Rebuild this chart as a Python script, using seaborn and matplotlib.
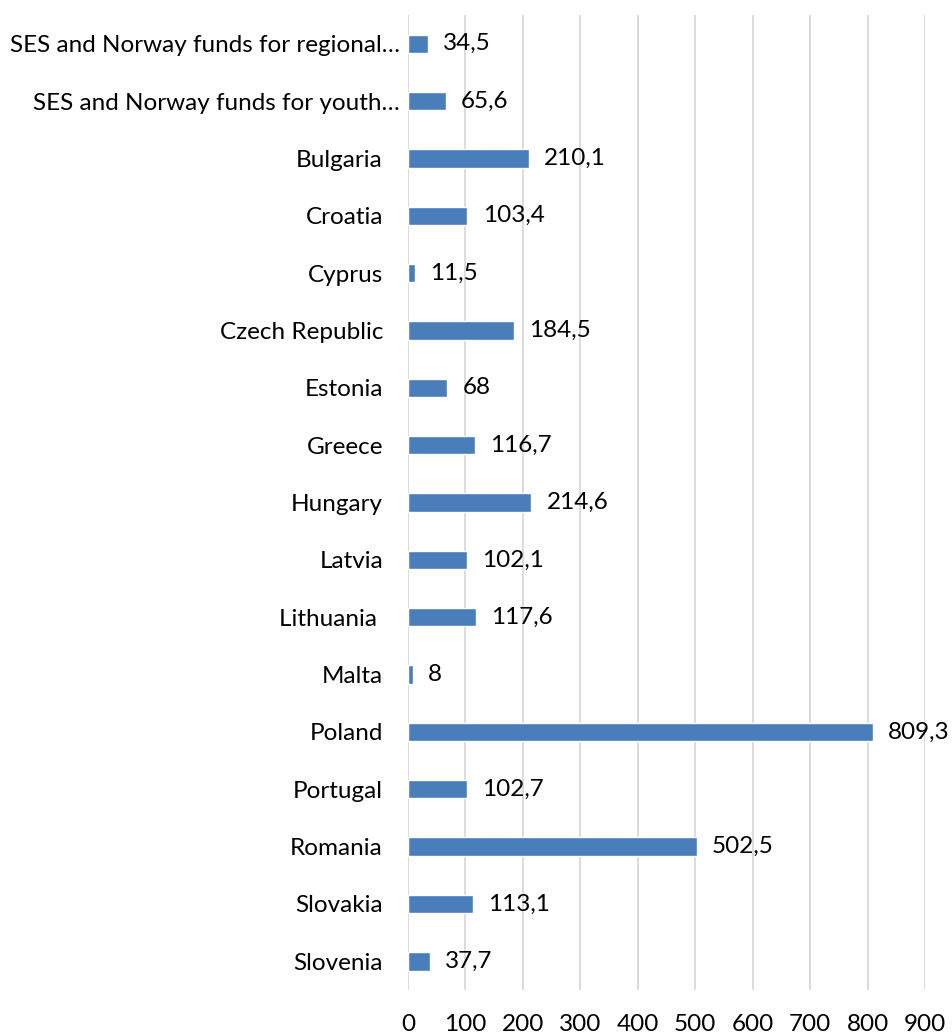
import matplotlib
matplotlib.use("Agg")
import matplotlib.pyplot as plt
import matplotlib.transforms as mtransforms
import seaborn as sns
import pandas as pd

categories = [
    "SES and Norway funds for regional…",
    "SES and Norway funds for youth…",
    "Bulgaria", "Croatia", "Cyprus", "Czech Republic", "Estonia", "Greece",
    "Hungary", "Latvia", "Lithuania ", "Malta", "Poland", "Portugal",
    "Romania", "Slovakia", "Slovenia",
]
values = [34.5, 65.6, 210.1, 103.4, 11.5, 184.5, 68, 116.7, 214.6, 102.1,
          117.6, 8, 809.3, 102.7, 502.5, 113.1, 37.7]
x_ticks = [0, 100, 200, 300, 400, 500, 600, 700, 800, 900]

df = pd.DataFrame({"cat": categories, "val": values})

sns.set_theme(style="white")
plt.rcParams["font.family"] = ["Lato", "DejaVu Sans"]

FS = 17.5
fig = plt.figure(figsize=(9.52, 10.35), dpi=100)
ax = fig.add_axes([408/952, 1-990/1035, (925-408)/952, (990-15)/1035])

sns.barplot(data=df, x="val", y="cat", orient="h", color="#4a7ebb",
            saturation=1, width=0.32, ax=ax)

for i, v in enumerate(values):
    s = f"{v:g}".replace(".", ",")
    ax.annotate(s, (v, i), xytext=(11, 0), textcoords="offset points",
                va="center", ha="left", fontsize=FS, color="#000000",
                annotation_clip=False)

ax.set_xlim(0, 900)
ax.set_ylim(len(categories) - 0.5, -0.5)
ax.set_xticks(x_ticks)
ax.set_xticklabels([str(t) for t in x_ticks], fontsize=FS)
ax.tick_params(axis="x", length=0, pad=17, labelcolor="#000000")
ax.tick_params(axis="y", length=0, pad=18, labelsize=FS, labelcolor="#000000")
ax.set_xlabel("")
ax.set_ylabel("")
ax.grid(axis="x", color="#d9d9d9", linewidth=1.3)
ax.set_axisbelow(True)
for sp in ax.spines.values():
    sp.set_visible(False)

# long truncated labels sit closer to the axis in the reference
shift = mtransforms.ScaledTranslation(12/72, 0, fig.dpi_scale_trans)
for lab in ax.get_yticklabels()[:2]:
    lab.set_transform(lab.get_transform() + shift)

fig.savefig("out.png", dpi=100)
